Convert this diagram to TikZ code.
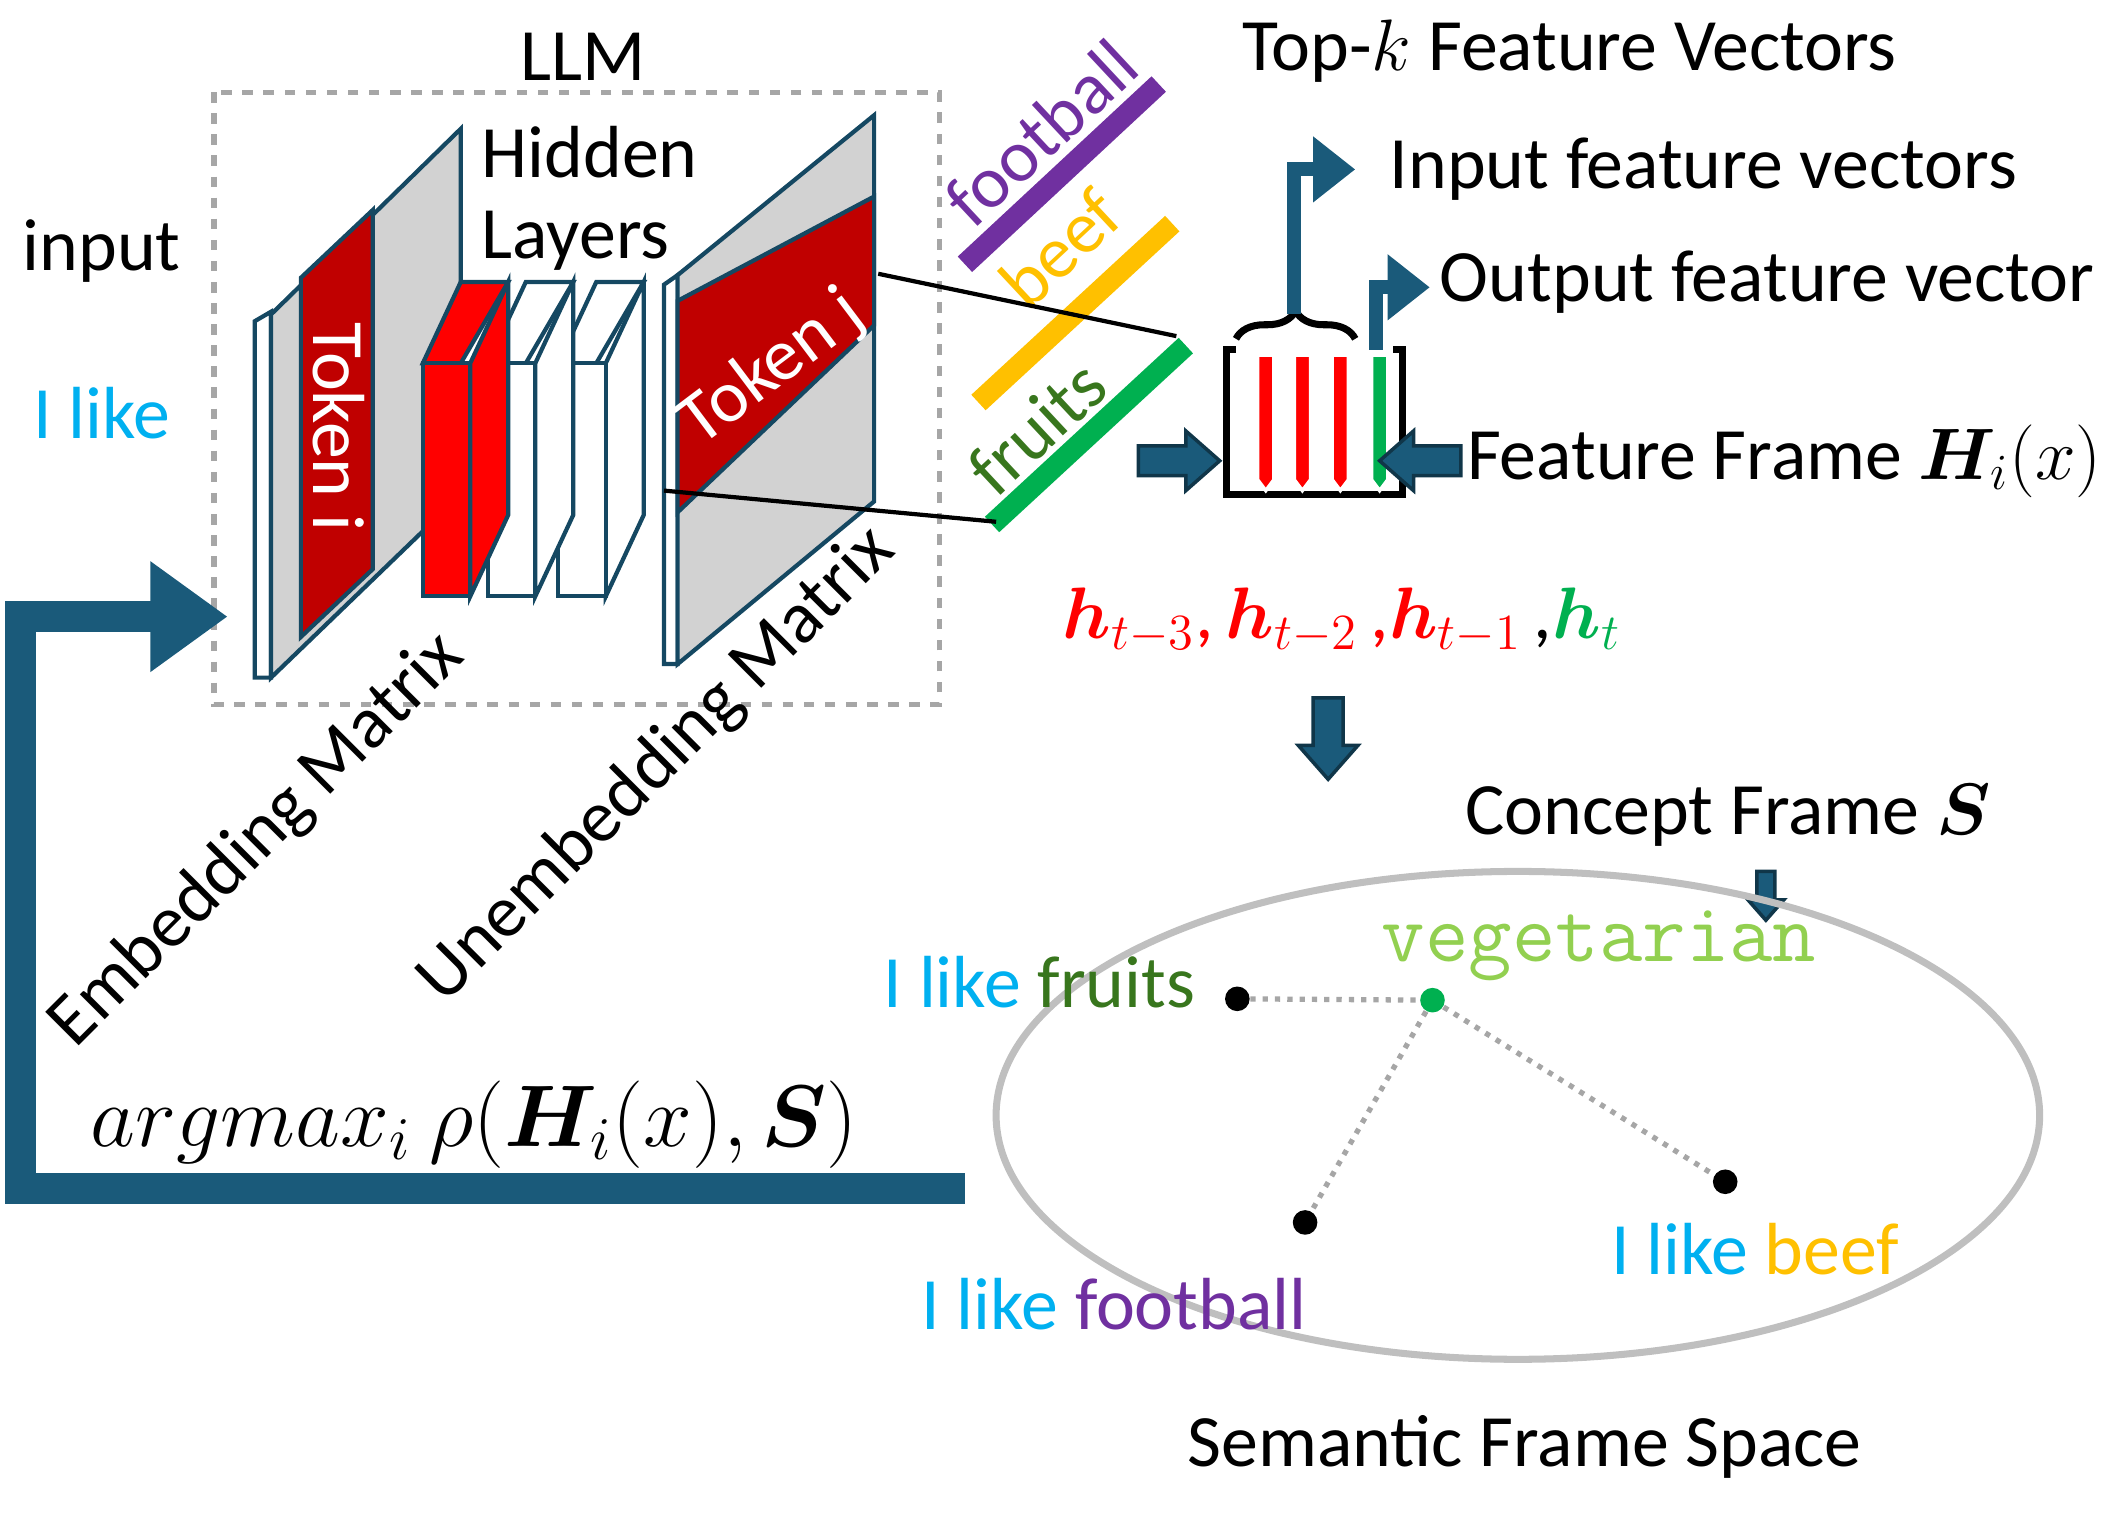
\documentclass[tikz,border=0pt]{standalone}
\usepackage{amsmath, amssymb, bm}
\usepackage{fontspec}
\setmainfont{Carlito}
\usetikzlibrary{calc, arrows.meta, decorations.pathreplacing, positioning}
\tikzset{>={Triangle}}
\definecolor{frameblue}{RGB}{26,90,122}
\definecolor{lightcyan}{RGB}{0,176,240}
\definecolor{fpurple}{RGB}{112,48,160}
\definecolor{fyellow}{RGB}{255,192,0}
\definecolor{fgreen}{RGB}{0,176,80}
\definecolor{dgreen}{RGB}{56,118,29}
\definecolor{vgreen}{RGB}{146,208,80}
\definecolor{tokred}{RGB}{192,0,0}
\begin{document}
\begin{tikzpicture}[
  x=0.1355mm, y=-0.1355mm,
  txt/.style={font=\fontsize{21}{24}\selectfont, inner sep=0pt},
  slab/.style={draw=frameblue!80!black, line width=1.2pt, fill=gray!35},
  rod/.style={line width=6pt},
  blockarrow/.pic={\draw[draw=frameblue!60!black, fill=frameblue, line width=1pt] (0,-11) -- (35,-11) -- (35,-22) -- (60,0) -- (35,22) -- (35,11) -- (0,11) -- cycle;},
  pt/.style={circle, fill=black, inner sep=0pt, minimum size=7pt},
  link/.style={dotted, gray!70, line width=1.5pt}
]
\useasboundingbox (0,0) rectangle (1568,1132);

% LLM frame
\draw[dashed, gray!70, line width=1.5pt] (158,68) rectangle (693,520);
\node[txt] (llm) at (430,42) {LLM};
\node[txt] (input) at (75,185) {input};
\node[txt, text=lightcyan] (ilike) at (75,305) {I like};

% Embedding matrix
\draw[slab, fill=white] (188,237) -- (200,230) -- (200,500) -- (188,500) -- cycle;
\draw[slab] (200,232) -- (340,95) -- (340,365) -- (200,500) -- cycle;
\draw[slab, fill=tokred] (222,205) -- (275,155) -- (275,420) -- (222,470) -- cycle;
\node[txt, text=white, rotate=-90] (toki) at (250,315) {Token i};

% Hidden layers
\foreach \x/\col in {412/white, 360/white, 312/red} {
  \draw[slab, fill=\col] (\x,268) -- ++(28,-60) -- ++(35,0) -- ++(-35,60) -- cycle;
  \draw[slab, fill=\col] (\x+35,268) -- ++(28,-60) -- ++(0,172) -- ++(-28,60) -- cycle;
  \draw[slab, fill=\col] (\x,268) rectangle ++(35,172);
}
\node[txt, anchor=west] (hid) at (355,112) {Hidden};
\node[txt, anchor=west] (lay) at (355,178) {Layers};

% Unembedding matrix
\draw[slab, fill=white] (490,210) -- (500,203) -- (500,490) -- (490,490) -- cycle;
\draw[slab] (500,203) -- (645,85) -- (645,370) -- (500,490) -- cycle;
\draw[slab, fill=tokred] (500,222) -- (645,145) -- (645,240) -- (500,378) -- cycle;
\node[txt, text=white, rotate=37] (tokj) at (570,272) {Token j};

\node[txt, rotate=45] (emb) at (190,620) {Embedding Matrix};
\node[txt, rotate=45] (unemb) at (485,565) {Unembedding Matrix};

% Top-k feature rods
\draw[rod, fpurple] (712,195) -- (855,62);
\draw[rod, fyellow] (722,297) -- (865,165);
\draw[rod, fgreen] (732,387) -- (875,255);
\node[txt, text=fpurple, rotate=43] (fb) at (768,98) {football};
\node[txt, text=fyellow, rotate=43] (bf) at (782,183) {beef};
\node[txt, text=dgreen, rotate=43] (fr) at (765,315) {fruits};
\node[txt] (topk) at (1158,38) {Top-$k$ Feature Vectors};
\draw[line width=1.2pt] (648,202) -- (868,248);
\draw[line width=1.2pt] (490,362) -- (735,385);

% Feature frame
\draw[line width=2pt] (912,258) -- (905,258) -- (905,365) -- (1035,365) -- (1035,258) -- (1028,258);
\foreach \x/\col in {928/red, 955/red, 983/red, 1012/fgreen}
  \draw[fill=\col, draw=white, line width=1pt] (\x,262) -- ++(12,0) -- ++(0,92) -- ++(-6,8) -- ++(-6,-8) -- cycle;
\draw[decorate, decoration={brace, amplitude=8pt}, line width=2pt] (912,250) -- (1000,250) coordinate[pos=0.5] (brtop);
\coordinate (inarr) at (1000,125);
\coordinate (outarr) at (1055,212);
\draw[frameblue, line width=4pt, -{Triangle[length=12pt, width=18pt]}] (955,232) |- (inarr);
\draw[frameblue, line width=4pt, -{Triangle[length=12pt, width=18pt]}] (1015,258) |- (outarr);
\node[txt, anchor=west] (inlbl) at (1025,125) {Input feature vectors};
\node[txt, anchor=west] (outlbl) at (1062,208) {Output feature vector};
\pic at (840,340) {blockarrow};
\pic[rotate=180] at (1078,340) {blockarrow};
\node[txt, anchor=west] (fflbl) at (1082,340) {Feature Frame $\bm{H}_i(x)$};
\node[txt] (hs) at (990,458) {\textcolor{red}{$\bm{h}_{t-3}$,\,$\bm{h}_{t-2}$\,,$\bm{h}_{t-1}$}\,,\textcolor{fgreen}{$\bm{h}_t$}};
\pic[rotate=-90] at (980,515) {blockarrow};
\pic[rotate=-90, scale=0.6] at (1303,643) {blockarrow};

% Semantic frame space
\node[txt] (cf) at (1275,602) {Concept Frame $\bm{S}$};
\draw[gray!50, line width=2pt] (1120,823) ellipse (385 and 180);
\node[pt] (pfr) at (913,737) {};
\node[pt, fill=fgreen] (pveg) at (1057,738) {};
\node[pt] (pfb) at (963,902) {};
\node[pt] (pbf) at (1273,872) {};
\draw[link] (pfr) -- (pveg);
\draw[link] (pveg) -- (pfb);
\draw[link] (pveg) -- (pbf);
\node[txt] (lfr) at (767,725) {\textcolor{lightcyan}{I like} \textcolor{dgreen}{fruits}};
\node[txt, text=vgreen] (lveg) at (1180,698) {\ttfamily\fontsize{24}{26}\selectfont vegetarian};
\node[txt] (lfb) at (822,962) {\textcolor{lightcyan}{I like} \textcolor{fpurple}{football}};
\node[txt] (lbf) at (1295,922) {\textcolor{lightcyan}{I like} \textcolor{fyellow}{beef}};
\node[txt] (sfs) at (1125,1068) {Semantic Frame Space};

% Feedback loop
\coordinate (fbstart) at (712,877);
\coordinate (fbend) at (168,455);
\draw[frameblue, line width=9pt, -{Triangle[length=22pt, width=30pt]}] (fbstart) -- (15,877) -- (15,455) -- (fbend);
\node[txt, font=\fontsize{23}{26}\selectfont] (argm) at (350,830) {$argmax_i\ \rho(\bm{H}_i(x),\bm{S})$};
\end{tikzpicture}
\end{document}
